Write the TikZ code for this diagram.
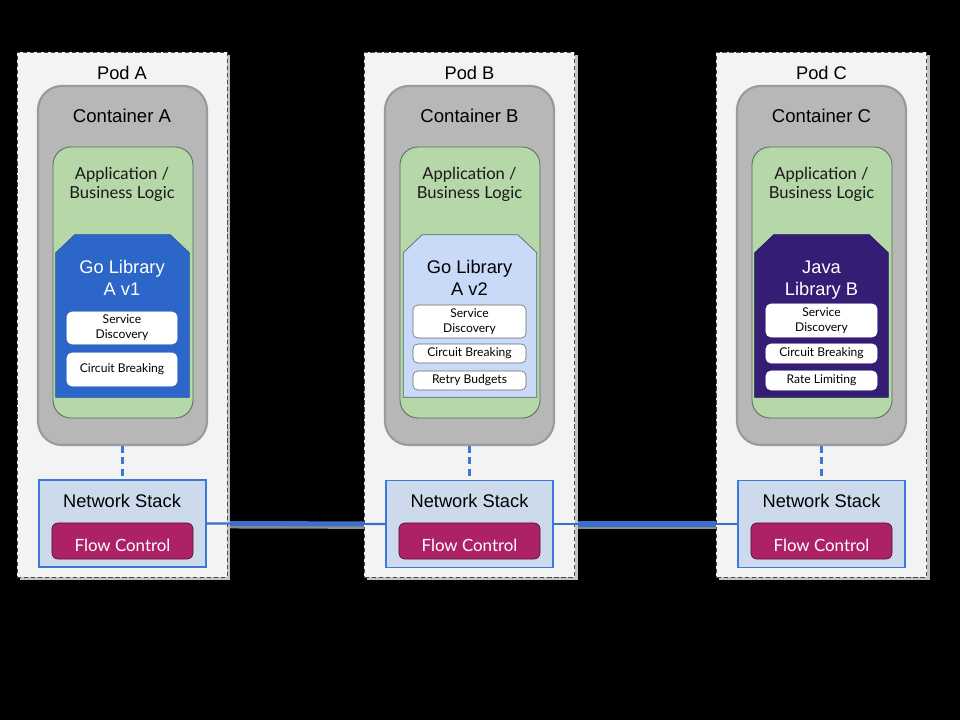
\documentclass[tikz,border=0pt]{standalone}
\usepackage{fontspec}
\usepackage{xcolor}
\usepackage{tikz}
\usetikzlibrary{shadows,backgrounds}
\setmainfont{Liberation Sans}
\newfontfamily\rhfont{Lato}

\definecolor{podfill}{HTML}{F3F3F3}
\definecolor{podshade}{HTML}{C4C4C4}
\definecolor{ctrfill}{HTML}{B7B7B7}
\definecolor{ctrline}{HTML}{9A9A9A}
\definecolor{appfill}{HTML}{B6D7A8}
\definecolor{appline}{HTML}{50705A}
\definecolor{goblue}{HTML}{2B66C8}
\definecolor{golight}{HTML}{C9DAF8}
\definecolor{javapurple}{HTML}{351C75}
\definecolor{netfill}{HTML}{CDDAEB}
\definecolor{netline}{HTML}{3C78D8}
\definecolor{flowfill}{HTML}{AD2166}
\definecolor{linkblue}{HTML}{3A6FD0}

\pgfdeclarelayer{backdrop}
\pgfsetlayers{backdrop,background,main}

% library outline, chamfered on top, drawn from the anchors of a node
\newcommand{\libshape}[2]{%
  \filldraw[#2] (#1.south west) -- ([yshift=-0.45cm]#1.north west)
    -- ([xshift=0.475cm]#1.north west) -- ([xshift=-0.475cm]#1.north east)
    -- ([yshift=-0.45cm]#1.north east) -- (#1.south east) -- cycle;}

\begin{document}
\begin{tikzpicture}[x=0.025cm, y=-0.025cm,
% common options for the pods:
pod/.style = {rectangle, draw=black!70, fill=podfill, dash pattern=on 3pt off 2pt,
            line width=0.5pt, minimum width=5.25cm, minimum height=13.125cm, inner sep=0,
            general shadow={fill=podshade, shadow xshift=0.075cm, shadow yshift=-0.075cm}},
% common options for the containers:
ctr/.style = {rectangle, rounded corners=0.6cm, draw=ctrline, fill=ctrfill, line width=1.5pt,
            minimum width=4.225cm, minimum height=8.975cm, inner sep=0},
app/.style = {rectangle, rounded corners=0.45cm, draw=appline, fill=appfill, line width=0.6pt,
            minimum width=3.5cm, minimum height=6.775cm, inner sep=0},
% libraries: the node only holds the size
lib/.style = {rectangle, minimum width=3.325cm, minimum height=4.05cm, inner sep=0},
feat/.style = {rectangle, rounded corners=0.12cm, fill=white, draw=black!60, line width=0.4pt,
            inner sep=0, align=center, font=\rhfont\fontsize{8.6}{10.5}\selectfont},
net/.style = {rectangle, draw=netline, fill=netfill, line width=1.2pt,
            minimum width=4.175cm, minimum height=2.175cm, inner sep=0},
flow/.style = {rectangle, rounded corners=0.15cm, draw=black!50!flowfill, fill=flowfill, line width=0.5pt,
            minimum width=3.525cm, minimum height=0.9cm, inner sep=0, text=white,
            text height=14.4pt, text depth=0pt, font=\rhfont\fontsize{12}{14}\selectfont},
title/.style = {align=center, inner sep=0},
podtitle/.style = {title, font=\fontsize{13}{15}\selectfont},
ctrtitle/.style = {title, font=\fontsize{13.2}{16}\selectfont},
apptitle/.style = {title, font=\rhfont\fontsize{11.8}{13.5}\selectfont, text=black!90},
libtitle/.style = {title, font=\fontsize{13}{15.6}\selectfont},
wire/.style = {draw=netline, line width=1.6pt, dash pattern=on 5pt off 3pt},
link/.style = {draw=linkblue, line width=3.6pt},
linkshadow/.style = {draw=black!45, line width=3pt},
thinlink/.style = {draw=linkblue, line width=1.5pt}]

\begin{pgfonlayer}{backdrop}
\fill[black] (0,0) rectangle (960,720);
\end{pgfonlayer}

% Pod A
\node[pod] (podA) at (122,314.5) {};
\node[podtitle] (podA-t) at (122,73) {Pod A};
\node[ctr] (ctrA) at (122.5,265.5) {};
\node[ctrtitle] (ctrA-t) at (122,116) {Container A};
\node[app] (appA) at (123,282.5) {};
\node[apptitle] (appA-t) at (122,184) {Application /\\Business Logic};
\node[lib] (libA) at (122.5,316) {};
\libshape{libA}{fill=goblue, draw=goblue!80!black, line width=0.4pt}
\node[libtitle, text=white] (libA-t) at (122,278) {Go Library\\A v1};
\node[feat, draw=white, minimum width=2.75cm, minimum height=0.8cm] (sdA) at (122,328) {Service\\Discovery};
\node[feat, draw=white, minimum width=2.75cm, minimum height=0.825cm] (cbA) at (122,369.5) {Circuit Breaking};
\node[net] (netA) at (122.5,523.5) {};
\node[title, font=\fontsize{13}{15}\selectfont] (netA-t) at (122,501) {Network Stack};
\node[flow] (flowA) at (122.5,541) {Flow Control};

% Pod B
\node[pod] (podB) at (469.5,314.5) {};
\node[podtitle] (podB-t) at (469.5,73) {Pod B};
\node[ctr] (ctrB) at (469.5,265.5) {};
\node[ctrtitle] (ctrB-t) at (469.5,116) {Container B};
\node[app] (appB) at (470,282.5) {};
\node[apptitle] (appB-t) at (469.5,184) {Application /\\Business Logic};
\node[lib] (libB) at (470,316) {};
\libshape{libB}{fill=golight, draw=black!55!golight, line width=0.5pt}
\node[libtitle] (libB-t) at (469.5,278) {Go Library\\A v2};
\node[feat, minimum width=2.825cm, minimum height=0.825cm] (sdB) at (469.5,321.5) {Service\\Discovery};
\node[feat, minimum width=2.825cm, minimum height=0.475cm] (cbB) at (469.5,353.5) {Circuit Breaking};
\node[feat, minimum width=2.825cm, minimum height=0.475cm] (rbB) at (469.5,380.5) {Retry Budgets};
\node[net] (netB) at (469.5,524) {};
\node[title, font=\fontsize{13}{15}\selectfont] (netB-t) at (469.5,501) {Network Stack};
\node[flow] (flowB) at (469.5,541) {Flow Control};

% Pod C
\node[pod] (podC) at (821.5,314.5) {};
\node[podtitle] (podC-t) at (821.5,73) {Pod C};
\node[ctr] (ctrC) at (821.5,265.5) {};
\node[ctrtitle] (ctrC-t) at (821.5,116) {Container C};
\node[app] (appC) at (822,282.5) {};
\node[apptitle] (appC-t) at (821.5,184) {Application /\\Business Logic};
\node[lib] (libC) at (821.5,316) {};
\libshape{libC}{fill=javapurple, draw=javapurple!70!black, line width=0.4pt}
\node[libtitle, text=white] (libC-t) at (821.5,280.5) {Java\\Library B};
\node[feat, draw=white, minimum width=2.775cm, minimum height=0.825cm] (sdC) at (821.5,320.5) {Service\\Discovery};
\node[feat, draw=white, minimum width=2.775cm, minimum height=0.475cm] (cbC) at (821.5,353.5) {Circuit Breaking};
\node[feat, draw=white, minimum width=2.775cm, minimum height=0.475cm] (rlC) at (821.5,380.5) {Rate Limiting};
\node[net] (netC) at (821.5,524) {};
\node[title, font=\fontsize{13}{15}\selectfont] (netC-t) at (821.5,501) {Network Stack};
\node[flow] (flowC) at (821.5,541) {Flow Control};

% container to network stack
\draw[wire] (ctrA.south) -- (netA.north);
\draw[wire] (ctrB.south) -- (netB.north);
\draw[wire] (ctrC.south) -- (netC.north);

% links between the pods
\begin{pgfonlayer}{background}
\draw[linkshadow] ([yshift=-0.07cm]netA.east) -- ([yshift=-0.07cm]netB.west);
\draw[linkshadow] ([yshift=-0.07cm]netB.east) -- ([yshift=-0.07cm]netC.west);
\draw[link] (netA.east) -- (netB.west);
\draw[link] (netB.east) -- (netC.west);
\end{pgfonlayer}
\draw[thinlink] (netA.east) -- (netB.west);
\draw[thinlink] (netB.east) -- (netC.west);
\end{tikzpicture}
\end{document}
